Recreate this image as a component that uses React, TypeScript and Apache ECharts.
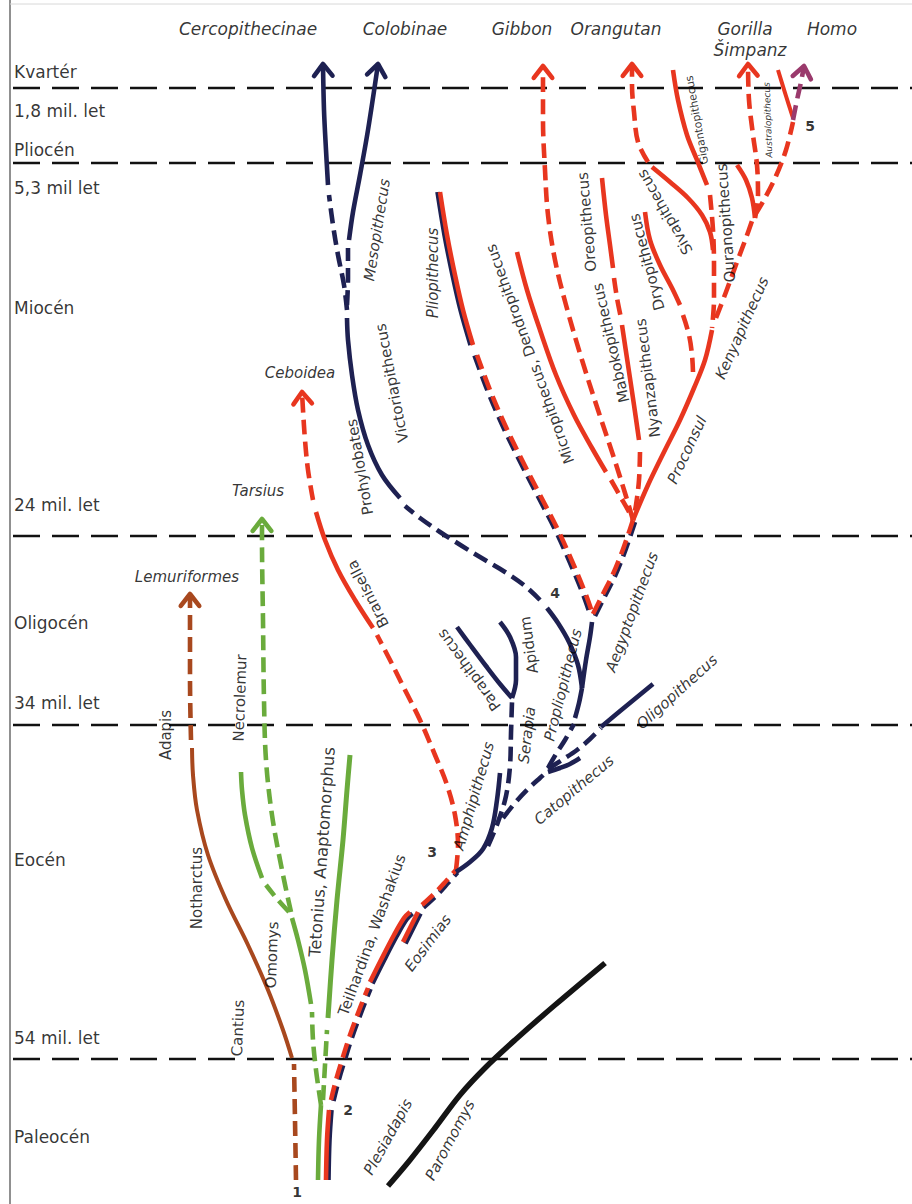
import React, { useEffect, useRef } from "react";
import * as echarts from "echarts";

type Pt = [number, number];

// ---------- epoch boundaries & labels ----------
const boundaryY = [88, 163, 536, 725, 1059];
const epochLabels = ["Kvartér", "1,8 mil. let", "Pliocén", "5,3 mil let", "Miocén", "24 mil. let", "Oligocén", "34 mil. let", "Eocén", "54 mil. let", "Paleocén"];
const epochLabelY = [72, 111, 150, 188, 308, 505, 623, 703, 860, 1038, 1137];

// ---------- top clade names ----------
const cladeNames = ["Cercopithecinae", "Colobinae", "Gibbon", "Orangutan", "Gorilla", "Šimpanz", "Homo"];
const cladePos: Pt[] = [[248, 29], [405, 29], [522, 29], [616, 29], [745, 29], [750, 50], [832, 29]];

// ---------- branches (x, y in diagram units) ----------
// Lemuriformes (brown)
const brownDashLow: Pt[] = [[296, 1180], [295, 1120], [294, 1064]];
const cantiusAdapis: Pt[] = [[292, 1058], [283, 1030], [268, 990], [248, 945], [226, 900], [208, 855], [197, 810], [193, 775], [192, 748]];
const lemurDash: Pt[] = [[191, 740], [190, 680], [190, 594]];
// Tarsiiformes (green)
const greenStem: Pt[] = [[318, 1180], [319, 1140], [321, 1105]];
const omomysDash: Pt[] = [[321, 1105], [316, 1070], [313, 1040], [312, 1012]];
const omomysSolid: Pt[] = [[311, 1004], [305, 970], [298, 940], [292, 918]];
const tarsiusDash: Pt[] = [[291, 912], [282, 870], [272, 815], [266, 760], [264, 700], [263, 620], [262, 540], [262, 519]];
const necroDash: Pt[] = [[289, 912], [278, 900], [266, 885]];
const necroSolid: Pt[] = [[262, 878], [252, 848], [245, 815], [242, 790], [241, 772]];
const tetoniusDash: Pt[] = [[323, 1100], [325, 1065], [327, 1030]];
const tetoniusSolid: Pt[] = [[328, 1018], [332, 960], [337, 900], [343, 840], [347, 790], [350, 755]];
// Anthropoid stem (red + navy)
const stemSolid: Pt[] = [[326, 1180], [327, 1140], [329, 1110]];
const stemDash: Pt[] = [[331, 1100], [336, 1080], [342, 1060], [350, 1035], [360, 1008], [368, 988]];
const teilhardina: Pt[] = [[370, 982], [382, 958], [394, 935], [404, 918], [410, 912]];
const eosimias: Pt[] = [[418, 912], [410, 928], [403, 942]];
const stemDash2: Pt[] = [[422, 905], [435, 893], [447, 880], [456, 870]];
// Ceboidea (red)
const ceboDashLow: Pt[] = [[456, 870], [458, 845], [455, 815], [447, 785], [435, 755], [420, 720], [405, 690], [390, 660], [377, 635]];
const branisella: Pt[] = [[373, 628], [355, 600], [338, 570], [325, 540], [316, 512]];
const ceboDashHigh: Pt[] = [[313, 500], [308, 470], [305, 440], [303, 410], [302, 392]];
// Catarrhini (navy)
const amphipithecus: Pt[] = [[456, 872], [470, 862], [483, 849], [492, 828], [497, 800], [500, 773]];
const serapiaDash: Pt[] = [[488, 846], [498, 822], [506, 796], [510, 766], [511, 733], [512, 702]];
const parapithecus: Pt[] = [[512, 698], [500, 684], [486, 666], [471, 646], [457, 627]];
const apidum: Pt[] = [[512, 698], [516, 680], [516, 657], [510, 637], [500, 622]];
const catoDash: Pt[] = [[503, 818], [515, 803], [528, 789], [540, 778], [548, 771]];
const catopithecus: Pt[] = [[548, 772], [560, 768], [570, 764], [580, 758]];
const oligoDash: Pt[] = [[548, 769], [562, 760], [577, 750], [590, 739], [601, 728]];
const oligopithecus: Pt[] = [[601, 727], [625, 707], [653, 684]];
const proplioDash: Pt[] = [[548, 768], [556, 754], [565, 740], [574, 724]];
const propliopithecus: Pt[] = [[575, 718], [579, 703], [582, 688]];
const proplioLeft: Pt[] = [[582, 688], [578, 665], [569, 642], [558, 623], [547, 608]];
const proplioRight: Pt[] = [[582, 688], [586, 660], [590, 637], [592, 622]];
const victoriaDash: Pt[] = [[540, 600], [525, 586], [505, 572], [485, 560], [462, 546], [440, 532], [420, 518], [405, 506]];
const victoriapithecus: Pt[] = [[400, 498], [382, 475], [368, 445], [358, 410], [352, 375], [348, 340], [347, 318]];
const cercoDash: Pt[] = [[347, 310], [344, 285], [338, 255], [333, 225], [329, 195]];
const cercoSolid: Pt[] = [[328, 185], [326, 150], [324, 110], [323, 64]];
const coloDash: Pt[] = [[347, 305], [348, 278], [348, 248]];
const coloSolid: Pt[] = [[349, 240], [353, 212], [360, 175], [368, 130], [378, 64]];
// Hominoidea (red, partly doubled with navy)
const aegyptoDash: Pt[] = [[593, 614], [603, 594], [613, 574], [622, 552], [628, 535], [633, 520]];
const plioSolid: Pt[] = [[440, 192], [447, 235], [455, 275], [463, 310], [473, 345]];
const plioDash: Pt[] = [[477, 355], [490, 390], [505, 425], [522, 460], [540, 495], [558, 530], [575, 568], [586, 595], [592, 612]];
const gibbonDash: Pt[] = [[633, 520], [625, 493], [613, 455], [598, 410], [582, 360], [566, 305], [555, 260], [548, 215], [545, 170], [543, 120], [543, 66]];
const microSolid: Pt[] = [[517, 252], [527, 290], [540, 330], [556, 375], [574, 415], [592, 448], [606, 472]];
const microDash: Pt[] = [[611, 480], [620, 496], [628, 510], [633, 520]];
const oreoSolid: Pt[] = [[602, 178], [606, 215], [610, 245], [613, 268]];
const oreoDash: Pt[] = [[614, 278], [617, 298], [621, 318]];
const nyanSolid: Pt[] = [[622, 325], [628, 365], [634, 405], [639, 440]];
const nyanDash: Pt[] = [[640, 452], [639, 480], [636, 505], [633, 520]];
const dryoSolid: Pt[] = [[645, 212], [650, 240], [660, 265], [672, 288], [680, 305]];
const dryoDash: Pt[] = [[683, 315], [689, 335], [692, 355], [693, 372]];
const proconsul: Pt[] = [[633, 520], [648, 485], [665, 450], [680, 420], [694, 388], [705, 360], [712, 330]];
const kenyaDash: Pt[] = [[716, 318], [726, 292], [737, 262], [746, 238], [753, 218]];
const gigantoSolid: Pt[] = [[673, 70], [678, 100], [687, 135], [697, 160], [707, 185]];
const gigantoDash: Pt[] = [[710, 195], [713, 230], [714, 265], [714, 300], [712, 328]];
const orangDash: Pt[] = [[648, 162], [638, 142], [634, 112], [632, 85], [632, 64]];
const sivaSolid: Pt[] = [[652, 167], [670, 182], [688, 198], [702, 215], [710, 232], [713, 250]];
const ouranoSolid: Pt[] = [[737, 165], [746, 180], [752, 198], [755, 218]];
const gorillaDash: Pt[] = [[755, 218], [758, 195], [757, 165], [753, 135], [749, 100], [748, 64]];
const australDash: Pt[] = [[755, 215], [765, 198], [776, 176], [786, 150], [793, 122]];
const australSolid: Pt[] = [[793, 118], [786, 96], [778, 70]];
const homoDash: Pt[] = [[793, 120], [797, 100], [801, 82], [804, 66]];
// Plesiadapiformes (black)
const plesiadapis: Pt[] = [[388, 1186], [410, 1160], [435, 1128], [460, 1095], [485, 1068], [515, 1040], [555, 1005], [605, 963]];

// ---------- taxon labels: text, x, y, rotation ----------
const taxonLabels: [string, number, number, number][] = [
  ["Cantius", 238, 1028, 88], ["Notharctus", 197, 888, 90], ["Adapis", 166, 735, 90],
  ["Necrolemur", 240, 698, 88], ["Omomys", 272, 955, 88], ["Tetonius, Anaptomorphus", 322, 852, 86],
  ["Teilhardina, Washakius", 372, 935, 70], ["Branisella", 368, 594, 117], ["Prohylobates", 360, 467, 100],
  ["Victoriapithecus", 392, 383, 101], ["Parapithecus", 469, 670, 126], ["Apidum", 529, 645, 98],
  ["Micropithecus, Dendropithecus", 530, 354, 110], ["Oreopithecus", 587, 222, 95],
  ["Mabokopithecus", 611, 343, 103], ["Nyanzapithecus", 648, 378, 97], ["Dryopithecus", 647, 262, 105],
  ["Sivapithecus", 665, 212, 120], ["Ouranopithecus", 726, 223, 94],
];
const taxonItalicLabels: [string, number, number, number][] = [
  ["Eosimias", 428, 943, 53], ["Amphipithecus", 474, 796, 74], ["Serapia", 527, 735, 83],
  ["Propliopithecus", 563, 685, 76], ["Aegyptopithecus", 632, 612, 70], ["Catopithecus", 574, 790, 40],
  ["Oligopithecus", 677, 692, 42], ["Mesopithecus", 377, 230, 81], ["Pliopithecus", 433, 273, 90],
  ["Kenyapithecus", 742, 328, 66], ["Proconsul", 687, 450, 65], ["Plesiadapis", 388, 1137, 61],
  ["Paromomys", 450, 1140, 62], ["Ceboidea", 300, 373, 0], ["Tarsius", 258, 491, 0], ["Lemuriformes", 187, 577, 0],
];
const smallLabels: [string, number, number, number, number][] = [
  ["Gigantopithecus", 697, 120, 100, 11], ["Australopithecus", 768, 120, 92, 9],
];
const nodeNumbers: [string, number, number][] = [["1", 297, 1192], ["2", 348, 1110], ["3", 432, 852], ["4", 555, 593], ["5", 810, 126]];

// ---------- styling ----------
const NAVY = "#1e2152";
const RED = "#e8361f";
const GREEN = "#6aab3c";
const BROWN = "#a8481e";
const BLACK = "#141414";
const PURPLE = "#9a3a6c";
const FONT = "'DejaVu Sans', 'Liberation Sans', Arial, sans-serif";

type Seg = { pts: Pt[]; color: string; dash?: boolean; width?: number; arrow?: boolean; twin?: [number, number] };

const segments: Seg[] = [
  { pts: brownDashLow, color: BROWN, dash: true },
  { pts: cantiusAdapis, color: BROWN, width: 4 },
  { pts: lemurDash, color: BROWN, dash: true, arrow: true },
  { pts: greenStem, color: GREEN },
  { pts: omomysDash, color: GREEN, dash: true },
  { pts: omomysSolid, color: GREEN },
  { pts: tarsiusDash, color: GREEN, dash: true, arrow: true },
  { pts: necroDash, color: GREEN, dash: true },
  { pts: necroSolid, color: GREEN },
  { pts: tetoniusDash, color: GREEN, dash: true },
  { pts: tetoniusSolid, color: GREEN, width: 5 },
  { pts: stemSolid, color: RED, twin: [2.5, 0] },
  { pts: stemDash, color: RED, dash: true, twin: [2.5, 1] },
  { pts: teilhardina, color: RED, twin: [2.5, 1.5] },
  { pts: eosimias, color: RED, twin: [2.5, 1.5] },
  { pts: stemDash2, color: RED, dash: true, twin: [1.5, 2.5] },
  { pts: ceboDashLow, color: RED, dash: true },
  { pts: branisella, color: RED },
  { pts: ceboDashHigh, color: RED, dash: true, arrow: true },
  { pts: amphipithecus, color: NAVY },
  { pts: serapiaDash, color: NAVY, dash: true },
  { pts: parapithecus, color: NAVY },
  { pts: apidum, color: NAVY },
  { pts: catoDash, color: NAVY, dash: true },
  { pts: catopithecus, color: NAVY },
  { pts: oligoDash, color: NAVY, dash: true },
  { pts: oligopithecus, color: NAVY },
  { pts: proplioDash, color: NAVY, dash: true },
  { pts: propliopithecus, color: NAVY },
  { pts: proplioLeft, color: NAVY },
  { pts: proplioRight, color: NAVY },
  { pts: victoriaDash, color: NAVY, dash: true },
  { pts: victoriapithecus, color: NAVY },
  { pts: cercoDash, color: NAVY, dash: true },
  { pts: cercoSolid, color: NAVY, arrow: true },
  { pts: coloDash, color: NAVY, dash: true },
  { pts: coloSolid, color: NAVY, arrow: true },
  { pts: aegyptoDash, color: RED, dash: true, twin: [2, 2] },
  { pts: plioSolid, color: RED, twin: [-2.5, 0] },
  { pts: plioDash, color: RED, dash: true, twin: [-2.5, 0.5] },
  { pts: gibbonDash, color: RED, dash: true, arrow: true },
  { pts: microSolid, color: RED },
  { pts: microDash, color: RED, dash: true },
  { pts: oreoSolid, color: RED },
  { pts: oreoDash, color: RED, dash: true },
  { pts: nyanSolid, color: RED },
  { pts: nyanDash, color: RED, dash: true },
  { pts: dryoSolid, color: RED },
  { pts: dryoDash, color: RED, dash: true },
  { pts: proconsul, color: RED },
  { pts: kenyaDash, color: RED, dash: true },
  { pts: gigantoSolid, color: RED },
  { pts: gigantoDash, color: RED, dash: true },
  { pts: orangDash, color: RED, dash: true, arrow: true },
  { pts: sivaSolid, color: RED },
  { pts: ouranoSolid, color: RED },
  { pts: gorillaDash, color: RED, dash: true, arrow: true },
  { pts: australDash, color: RED, dash: true },
  { pts: australSolid, color: RED, width: 4 },
  { pts: homoDash, color: PURPLE, dash: true, arrow: true },
  { pts: plesiadapis, color: BLACK, width: 5.5 },
];

function lineSeries(data: Pt[], color: string, width: number, dash: boolean, smooth: number | boolean, z: number) {
  return {
    type: "line",
    data,
    symbol: "none",
    showSymbol: false,
    smooth,
    silent: true,
    animation: false,
    z,
    lineStyle: { color, width, type: dash ? [15, 7] : "solid", cap: "butt", join: "round" },
  };
}

function arrowHead(pts: Pt[]): Pt[] {
  const tip = pts[pts.length - 1];
  const prev = pts[Math.max(0, pts.length - 2)];
  let dx = tip[0] - prev[0];
  let dy = tip[1] - prev[1];
  const len = Math.hypot(dx, dy) || 1;
  dx /= len;
  dy /= len;
  const L = 15;
  const a = (38 * Math.PI) / 180;
  const rot = (ang: number): Pt => {
    const rx = dx * Math.cos(ang) - dy * Math.sin(ang);
    const ry = dx * Math.sin(ang) + dy * Math.cos(ang);
    return [tip[0] - L * rx, tip[1] - L * ry];
  };
  return [rot(a), tip, rot(-a)];
}

function textItem(text: string, x: number, y: number, rotate: number, opts: any) {
  return {
    value: [x, y],
    label: { show: true, formatter: text, rotate, ...opts },
  };
}

function buildOption() {
  const series: any[] = [];
  // frame
  series.push(lineSeries([[10, 0], [10, 1204]], "#6b6b6b", 1.5, false, false, 1));
  series.push(lineSeries([[10, 4], [912, 4]], "#d8d8d8", 1, false, false, 1));
  // epoch boundaries
  boundaryY.forEach((y) => {
    const s: any = lineSeries([[10, y], [912, y]], "#111", 2.4, false, false, 1);
    s.lineStyle.type = [27, 12];
    s.lineStyle.dashOffset = -3;
    series.push(s);
  });
  // branches
  segments.forEach((sg) => {
    const w = sg.width ?? 4.6;
    const smooth = sg.pts.length > 2 ? 0.35 : false;
    if (sg.twin) {
      const [ox, oy] = sg.twin;
      const shifted = sg.pts.map((p) => [p[0] + ox, p[1] + oy] as Pt);
      series.push(lineSeries(shifted, NAVY, w, !!sg.dash, smooth, 2));
    }
    series.push(lineSeries(sg.pts, sg.color, w, !!sg.dash, smooth, 3));
    if (sg.arrow) {
      const s: any = lineSeries(arrowHead(sg.pts), sg.color, 4.6, false, false, 3);
      s.lineStyle.cap = "round";
      series.push(s);
    }
  });
  // texts
  const base = { color: "#000", fontFamily: FONT, position: "inside" };
  const texts: any[] = [];
  epochLabels.forEach((t, i) => texts.push(textItem(t, 14, epochLabelY[i], 0, { ...base, fontSize: 17, align: "left" })));
  cladeNames.forEach((t, i) => texts.push(textItem(t, cladePos[i][0], cladePos[i][1], 0, { ...base, fontSize: 17, fontStyle: "italic" })));
  taxonLabels.forEach(([t, x, y, r]) => texts.push(textItem(t, x, y, r, { ...base, fontSize: t.startsWith("Tetonius") ? 16.5 : 15 })));
  taxonItalicLabels.forEach(([t, x, y, r]) => texts.push(textItem(t, x, y, r, { ...base, fontSize: 15, fontStyle: "italic" })));
  smallLabels.forEach(([t, x, y, r, fs]) => texts.push(textItem(t, x, y, r, { ...base, fontSize: fs, fontStyle: fs < 10 ? "italic" : "normal" })));
  nodeNumbers.forEach(([t, x, y]) => texts.push(textItem(t, x, y, 0, { ...base, fontSize: 14, fontWeight: "bold" })));
  series.push({
    type: "scatter",
    data: texts,
    symbolSize: 0,
    silent: true,
    z: 5,
    label: { show: true, position: "inside" },
  });

  return {
    animation: false,
    backgroundColor: "#ffffff",
    grid: { left: 0, right: 0, top: 0, bottom: 0, containLabel: false },
    xAxis: { type: "value", min: 0, max: 912, show: false },
    yAxis: { type: "value", min: 0, max: 1204, inverse: true, show: false },
    series,
  };
}

export default function App() {
  const ref = useRef<HTMLDivElement>(null);
  useEffect(() => {
    if (!ref.current) return;
    const chart = echarts.init(ref.current, null, { renderer: "svg" });
    chart.setOption(buildOption());
    return () => chart.dispose();
  }, []);
  return (
    <div
      ref={ref}
      style={{ position: "fixed", left: 0, top: 0, width: 912, height: 1204, background: "#fff" }}
    />
  );
}
